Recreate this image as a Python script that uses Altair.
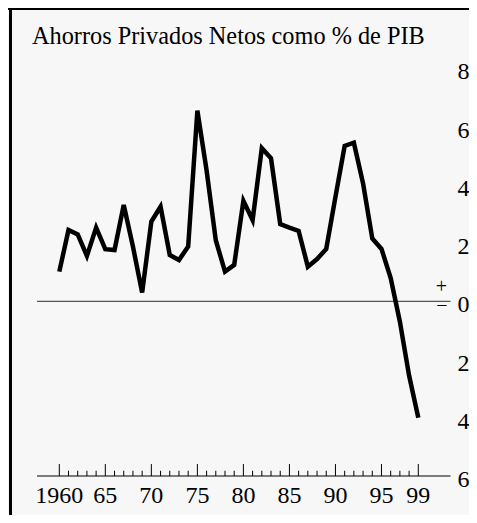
import altair as alt
import pandas as pd

# ---- data ----
years = list(range(1960, 2000))
savings = [1.02, 2.45, 2.30, 1.56, 2.53, 1.79, 1.76, 3.31, 1.88, 0.30,
           2.74, 3.25, 1.59, 1.42, 1.88, 6.55, 4.50, 2.10, 1.02, 1.25,
           3.45, 2.79, 5.26, 4.91, 2.65, 2.53, 2.42, 1.19, 1.45, 1.80,
           3.59, 5.34, 5.45, 4.05, 2.16, 1.80, 0.80, -0.70, -2.55, -4.00]
y_tick_values = [8, 6, 4, 2, 0, -2, -4, -6]
y_tick_labels = ["8", "6", "4", "2", "0", "2", "4", "6"]
x_label_years = [1960, 1965, 1970, 1975, 1980, 1985, 1990, 1995, 1999]
x_label_texts = ["1960", "65", "70", "75", "80", "85", "90", "95", "99"]
title_text = "Ahorros Privados Netos como % de PIB"

FONT = "Liberation Serif"
W, H = 461, 507

xs = alt.Scale(domain=[1960, 1999], range=[51.3, 410.3], nice=False, zero=False)
ys = alt.Scale(domain=[-6, 8], range=[468, 60.4], nice=False, zero=False)

x_lo, x_hi = 1957.58, 2002.5
base_y = -6

line_df = pd.DataFrame({"year": years, "value": savings})
ref_df = pd.DataFrame({"x": [x_lo, x_lo], "x2": [x_hi, x_hi], "y": [0, base_y],
                       "kind": ["zero", "axis"]})
majors = set(x_label_years)
tick_df = pd.DataFrame({
    "year": years,
    "y0": [base_y] * len(years),
    "y1": [base_y + (0.41 if y in majors else 0.18) for y in years],
})
ylab_df = pd.DataFrame({"v": y_tick_values, "t": y_tick_labels})
xlab_df = pd.DataFrame({"year": x_label_years, "t": x_label_texts})

X = lambda f: alt.X(f, type="quantitative", scale=xs, axis=None)
Y = lambda f: alt.Y(f, type="quantitative", scale=ys, axis=None)

frame_top = alt.Chart(pd.DataFrame({"a": [0]})).mark_rule(color="black", strokeWidth=3).encode(
    x=alt.value(0), x2=alt.value(W), y=alt.value(0.5))
frame_left = alt.Chart(pd.DataFrame({"a": [0]})).mark_rule(color="black", strokeWidth=3).encode(
    x=alt.value(2.5), y=alt.value(0), y2=alt.value(H))

zero_line = alt.Chart(ref_df[ref_df.kind == "zero"]).mark_rule(color="#555555", strokeWidth=1.3).encode(
    x=X("x"), x2="x2", y=Y("y"))
axis_line = alt.Chart(ref_df[ref_df.kind == "axis"]).mark_rule(color="black", strokeWidth=1).encode(
    x=X("x"), x2="x2", y=Y("y"))
ticks = alt.Chart(tick_df).mark_rule(color="black", strokeWidth=1).encode(
    x=X("year"), y=Y("y0"), y2="y1")

series = alt.Chart(line_df).mark_line(color="black", strokeWidth=4.5, strokeJoin="miter").encode(
    x=X("year"), y=Y("value"))

ylabels = alt.Chart(ylab_df).mark_text(font=FONT, fontSize=24, align="left",
                                        baseline="alphabetic", dy=11, color="black").encode(
    x=alt.value(449.5), y=Y("v"), text="t:N")
xlabels = alt.Chart(xlab_df).mark_text(font=FONT, fontSize=24, align="center",
                                        baseline="alphabetic", color="black").encode(
    x=X("year"), y=alt.value(495.3), text="t:N")

sign_df = pd.DataFrame({"v": [0], "plus": ["+"], "minus": ["\u2212"]})
plus = alt.Chart(sign_df).mark_text(font=FONT, fontSize=20, align="center",
                                     baseline="alphabetic", dy=-8, color="black").encode(
    x=alt.value(433.5), y=Y("v"), text="plus:N")
minus = alt.Chart(sign_df).mark_text(font=FONT, fontSize=20, align="center",
                                      baseline="alphabetic", dy=11, color="black").encode(
    x=alt.value(434), y=Y("v"), text="minus:N")

title = alt.Chart(pd.DataFrame({"t": [title_text]})).mark_text(
    font=FONT, fontSize=24.3, align="left", baseline="alphabetic", color="black").encode(
    x=alt.value(24), y=alt.value(36.3), text="t:N")

chart = alt.layer(frame_top, frame_left, zero_line, axis_line, ticks, series,
                  ylabels, xlabels, plus, minus, title).properties(
    width=W, height=H, autosize=alt.AutoSizeParams(type="none"), padding=0,
    background="#f7f7f7"
).configure_view(stroke=None)

chart.save("out.html", embed_options={"renderer": "svg", "actions": False})
